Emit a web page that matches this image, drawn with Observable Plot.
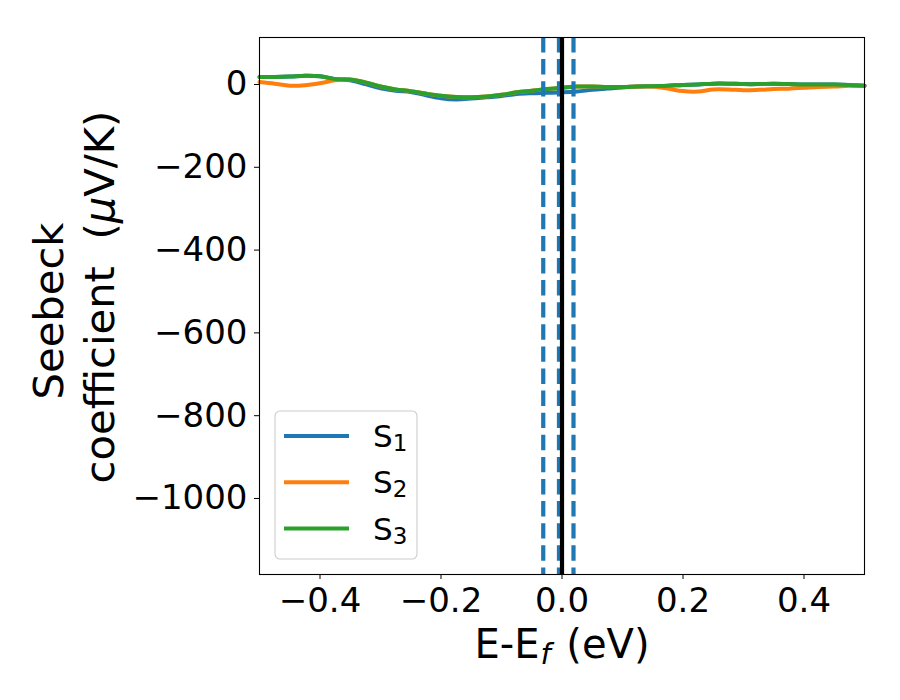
<!DOCTYPE html>
<html><head><meta charset="utf-8">
<script src="https://cdn.jsdelivr.net/npm/d3@7"></script>
<script src="https://cdn.jsdelivr.net/npm/@observablehq/plot@0.6"></script>
<style>body{margin:0;background:#fff;}</style>
</head><body><div id="chart"></div>
<script>
// ---- data ----
const energy = [-0.5,-0.475,-0.45,-0.425,-0.4,-0.375,-0.35,-0.325,-0.3,-0.275,-0.25,-0.225,-0.2,-0.175,-0.15,-0.125,-0.1,-0.075,-0.05,-0.025,0,0.025,0.05,0.075,0.1,0.125,0.15,0.175,0.2,0.225,0.25,0.275,0.3,0.325,0.35,0.375,0.4,0.425,0.45,0.475,0.5];
const S1 = [18,18,19,21,20,13,10,1,-9,-15,-18,-26,-33,-36,-34,-31,-28,-23,-21,-20,-19,-17,-13,-10,-7,-5,-4,-3,-1,0,2,2,1,1,2,1,0,0,0,-1,-3];
const S2 = [6,2,-3,-2,3,10,12,5,-5,-12,-16,-22,-27,-30,-31,-29,-25,-19,-15,-11,-8,-5,-5,-6,-6,-5,-5,-10,-16,-17,-12,-12,-14,-13,-11,-10,-8,-6,-5,-3,-3];
const S3 = [18,18,19,21,20,13,12,5,-5,-12,-16,-22,-27,-30,-31,-29,-25,-19,-15,-11,-8,-5,-5,-6,-6,-5,-4,-3,-1,0,2,2,1,1,2,1,0,0,0,-1,-3];
const seriesNames = ["S1","S2","S3"];
const seriesSubs = ["1","2","3"];
const seriesColors = ["#1f77b4","#ff7f0e","#2ca02c"];
const dashedLines = [-0.031,-0.005,0.019];
const fermiLine = [0];
const xTicks = [-0.4,-0.2,0,0.2,0.4];
const yTicks = [-1000,-800,-600,-400,-200,0];
const xDomain = [-0.5,0.5];
const yDomain = [-1183.6,113.5];

const seriesValues = [S1,S2,S3];
const rows = seriesNames.flatMap((name,k) => energy.map((e,i) => ({E:e, S:seriesValues[k][i], series:name})));

const svg = Plot.plot({
  width:900, height:700,
  marginLeft:259, marginRight:36, marginTop:37, marginBottom:126,
  style:{fontFamily:"DejaVu Sans", fontSize:"34px", background:"#fff", color:"#000", overflow:"visible"},
  x:{domain:xDomain, ticks:xTicks, tickFormat:d3.format(".1f"), tickSize:5, tickPadding:8, label:null},
  y:{domain:yDomain, ticks:yTicks, tickFormat:d3.format("d"), tickSize:5, tickPadding:7, label:null},
  color:{domain:seriesNames, range:seriesColors},
  marks:[
    Plot.line(rows,{x:"E", y:"S", stroke:"series", strokeWidth:4, curve:"catmull-rom"}),
    Plot.ruleX(dashedLines,{stroke:"#1f77b4", strokeWidth:4.2, strokeDasharray:"15.4,6.7"}),
    Plot.ruleX(fermiLine,{stroke:"#000", strokeWidth:4.2}),
    Plot.frame({stroke:"#000", strokeWidth:1.1})
  ]
});

const s = d3.select(svg);
const font = "DejaVu Sans";

// x label
const xl = s.append("text").attr("x", 562).attr("y", 658).attr("text-anchor","middle")
  .attr("font-family",font).attr("font-size",40).attr("fill","#000");
xl.append("tspan").text("E-E");
xl.append("tspan").attr("font-style","italic").attr("font-size",29).attr("dx",1).attr("dy",6).text("f");
xl.append("tspan").attr("dy",-6).attr("dx",3).text(" (eV)");

// y label (two lines)
s.append("text").attr("transform","translate(63,311) rotate(-90)").attr("text-anchor","middle")
  .attr("font-family",font).attr("font-size",41.7).attr("fill","#000").text("Seebeck");
const yl2 = s.append("text").attr("transform","translate(114,297) rotate(-90)").attr("text-anchor","middle")
  .attr("font-family",font).attr("font-size",41.7).attr("fill","#000");
yl2.append("tspan").text("coefficient\u00a0\u00a0(");
yl2.append("tspan").attr("font-style","italic").text("\u03bc");
yl2.append("tspan").text("V/K)");

// legend
const lg = s.append("g");
lg.append("rect").attr("x",275).attr("y",411).attr("width",142).attr("height",148).attr("rx",5)
  .attr("fill","#fff").attr("fill-opacity",0.8).attr("stroke","#cccccc").attr("stroke-width",1.1);
seriesNames.forEach((name,i) => {
  const yy = 436 + i*46.3;
  lg.append("line").attr("x1",284).attr("x2",349).attr("y1",yy).attr("y2",yy)
    .attr("stroke",seriesColors[i]).attr("stroke-width",4);
  const t = lg.append("text").attr("x",373).attr("y",yy+11).attr("text-anchor","start")
    .attr("font-family",font).attr("font-size",31).attr("fill","#000");
  t.append("tspan").text("S");
  t.append("tspan").attr("font-size",23).attr("dy",4).text(seriesSubs[i]);
});

document.getElementById("chart").appendChild(svg);
</script>
</body></html>
